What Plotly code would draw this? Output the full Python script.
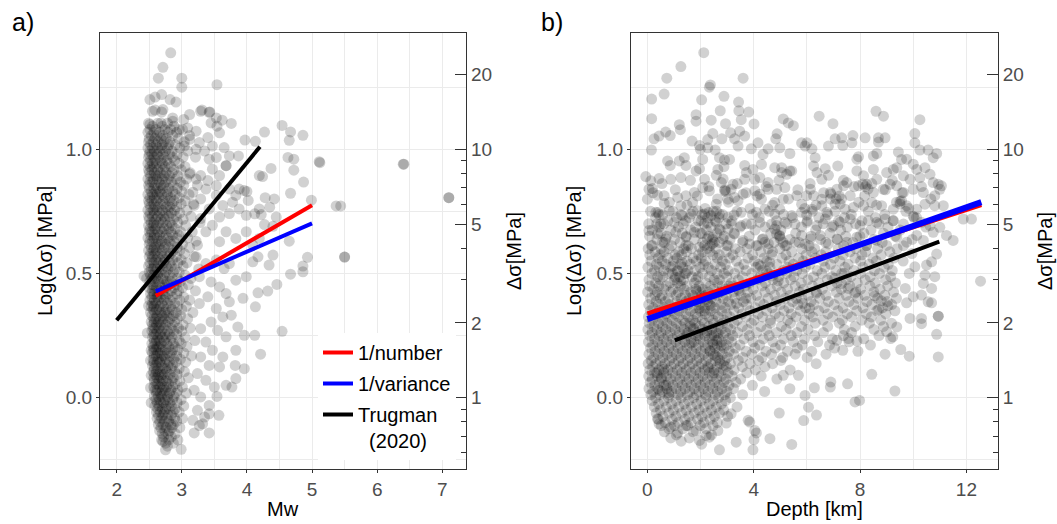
import plotly.graph_objects as go

# ---------------- panel a: Mw vs log10(stress drop) ----------------
# dense core, read row by row (log stress drop, list of Mw)
a_rows = [
    (1.105, [2.49, 2.63, 2.78]),
    (1.093, [2.55, 2.70, 2.88]),
    (1.080, [2.51, 2.60, 2.74, 2.83, 3.01]),
    (1.068, [2.48, 2.57, 2.66, 2.79, 2.92]),
    (1.055, [2.53, 2.62, 2.71, 2.86, 3.12]),
    (1.043, [2.50, 2.59, 2.68, 2.76, 2.95]),
    (1.030, [2.49, 2.56, 2.64, 2.73, 2.82, 3.04]),
    (1.018, [2.52, 2.61, 2.70, 2.80, 2.90]),
    (1.005, [2.48, 2.55, 2.63, 2.69, 2.78, 2.97]),
    (0.993, [2.51, 2.58, 2.66, 2.75, 2.85, 3.09]),
    (0.980, [2.50, 2.54, 2.62, 2.71, 2.81, 2.93]),
    (0.968, [2.49, 2.57, 2.65, 2.73, 2.86, 3.02, 3.21]),
    (0.955, [2.52, 2.59, 2.68, 2.77, 2.89]),
    (0.943, [2.48, 2.55, 2.61, 2.70, 2.80, 2.96]),
    (0.930, [2.51, 2.57, 2.66, 2.74, 2.83, 3.05]),
    (0.918, [2.49, 2.54, 2.63, 2.72, 2.88, 2.99]),
    (0.905, [2.50, 2.58, 2.67, 2.76, 2.85, 3.13]),
    (0.893, [2.52, 2.60, 2.64, 2.73, 2.81, 2.94]),
    (0.880, [2.48, 2.56, 2.62, 2.70, 2.79, 2.91, 3.07]),
    (0.868, [2.51, 2.55, 2.65, 2.75, 2.84, 2.98]),
    (0.855, [2.49, 2.59, 2.68, 2.72, 2.87, 3.03, 3.24]),
    (0.843, [2.50, 2.57, 2.63, 2.71, 2.80, 2.93]),
    (0.830, [2.53, 2.60, 2.66, 2.77, 2.86, 3.00]),
    (0.818, [2.48, 2.55, 2.62, 2.69, 2.78, 2.90, 3.11]),
    (0.805, [2.51, 2.58, 2.65, 2.74, 2.83, 2.96]),
    (0.793, [2.49, 2.54, 2.61, 2.71, 2.81, 2.88, 3.05]),
    (0.780, [2.50, 2.57, 2.67, 2.73, 2.85, 2.99, 3.18]),
    (0.768, [2.52, 2.59, 2.64, 2.76, 2.82, 2.92]),
    (0.755, [2.48, 2.56, 2.62, 2.70, 2.79, 2.89, 3.08]),
    (0.743, [2.51, 2.58, 2.66, 2.75, 2.84, 2.97]),
    (0.730, [2.49, 2.55, 2.63, 2.72, 2.80, 2.91, 3.14]),
    (0.718, [2.50, 2.60, 2.68, 2.74, 2.87, 3.02]),
    (0.705, [2.53, 2.57, 2.65, 2.71, 2.82, 2.94, 3.28]),
    (0.693, [2.49, 2.56, 2.61, 2.77, 2.85, 3.06]),
    (0.680, [2.51, 2.59, 2.67, 2.73, 2.80, 2.90]),
    (0.668, [2.50, 2.54, 2.63, 2.70, 2.83, 2.98, 3.16]),
    (0.655, [2.52, 2.58, 2.66, 2.76, 2.86, 2.95]),
    (0.643, [2.48, 2.57, 2.62, 2.72, 2.79, 2.92, 3.09]),
    (0.630, [2.51, 2.55, 2.64, 2.69, 2.81, 2.88, 3.22]),
    (0.618, [2.50, 2.60, 2.67, 2.75, 2.84, 3.01]),
    (0.605, [2.53, 2.58, 2.65, 2.73, 2.80, 2.93, 3.12]),
    (0.593, [2.49, 2.56, 2.61, 2.70, 2.87, 2.97]),
    (0.580, [2.52, 2.59, 2.68, 2.77, 2.83, 3.04]),
    (0.568, [2.50, 2.55, 2.63, 2.71, 2.80, 2.91, 3.19]),
    (0.555, [2.54, 2.60, 2.66, 2.74, 2.86, 2.99]),
    (0.543, [2.51, 2.57, 2.64, 2.72, 2.82, 2.94, 3.08]),
    (0.530, [2.49, 2.58, 2.67, 2.76, 2.84, 3.02]),
    (0.518, [2.53, 2.56, 2.62, 2.70, 2.79, 2.90, 3.26]),
    (0.505, [2.50, 2.59, 2.65, 2.75, 2.87, 2.96]),
    (0.493, [2.52, 2.57, 2.63, 2.73, 2.81, 3.05]),
    (0.480, [2.54, 2.60, 2.68, 2.71, 2.85, 2.93, 3.14]),
    (0.468, [2.51, 2.58, 2.64, 2.77, 2.83, 2.98]),
    (0.455, [2.53, 2.56, 2.66, 2.74, 2.80, 2.91, 3.10]),
    (0.443, [2.50, 2.61, 2.69, 2.76, 2.88, 3.01]),
    (0.430, [2.55, 2.59, 2.65, 2.72, 2.84, 2.95, 3.21]),
    (0.418, [2.52, 2.57, 2.63, 2.71, 2.79, 2.92]),
    (0.405, [2.54, 2.62, 2.67, 2.75, 2.86, 3.03]),
    (0.393, [2.51, 2.58, 2.64, 2.73, 2.82, 2.97, 3.12]),
    (0.380, [2.55, 2.60, 2.69, 2.78, 2.89]),
    (0.368, [2.53, 2.57, 2.66, 2.72, 2.83, 2.94, 3.07]),
    (0.355, [2.56, 2.61, 2.65, 2.76, 2.85, 3.00]),
    (0.343, [2.52, 2.59, 2.68, 2.74, 2.80, 2.91, 3.17]),
    (0.330, [2.54, 2.62, 2.70, 2.77, 2.87, 2.98]),
    (0.318, [2.57, 2.60, 2.66, 2.73, 2.82, 2.93, 3.09]),
    (0.305, [2.53, 2.58, 2.64, 2.71, 2.79, 2.89]),
    (0.293, [2.55, 2.61, 2.68, 2.75, 2.86, 3.02]),
    (0.280, [2.56, 2.59, 2.65, 2.72, 2.84, 2.95, 3.13]),
    (0.268, [2.54, 2.62, 2.69, 2.78, 2.88, 3.00]),
    (0.255, [2.57, 2.60, 2.67, 2.74, 2.81, 2.92]),
    (0.243, [2.55, 2.63, 2.70, 2.76, 2.85, 3.05]),
    (0.230, [2.58, 2.61, 2.66, 2.73, 2.83, 2.96, 3.20]),
    (0.218, [2.54, 2.59, 2.68, 2.77, 2.87, 2.99]),
    (0.205, [2.56, 2.62, 2.65, 2.71, 2.80, 2.90, 3.08]),
    (0.193, [2.57, 2.60, 2.69, 2.75, 2.86, 2.94]),
    (0.180, [2.55, 2.63, 2.67, 2.78, 2.84, 3.03]),
    (0.168, [2.58, 2.61, 2.70, 2.73, 2.82, 2.92, 3.15]),
    (0.155, [2.56, 2.64, 2.68, 2.76, 2.88, 2.98]),
    (0.143, [2.57, 2.62, 2.66, 2.74, 2.81, 2.91, 3.06]),
    (0.130, [2.55, 2.60, 2.69, 2.79, 2.86]),
    (0.118, [2.58, 2.63, 2.71, 2.75, 2.84, 2.96]),
    (0.105, [2.56, 2.61, 2.67, 2.77, 2.89, 3.04]),
    (0.093, [2.59, 2.64, 2.70, 2.73, 2.82, 2.93]),
    (0.080, [2.57, 2.62, 2.68, 2.78, 2.87, 3.10]),
    (0.068, [2.58, 2.65, 2.71, 2.76, 2.85, 2.97]),
    (0.055, [2.60, 2.63, 2.69, 2.80, 2.90]),
    (0.043, [2.57, 2.66, 2.72, 2.77, 2.86, 3.01]),
    (0.030, [2.59, 2.62, 2.70, 2.75, 2.83, 2.94]),
    (0.018, [2.61, 2.67, 2.73, 2.81, 2.91, 3.07]),
    (0.005, [2.58, 2.64, 2.69, 2.78, 2.88]),
    (-0.008, [2.60, 2.66, 2.74, 2.79, 2.86, 2.99]),
    (-0.020, [2.62, 2.68, 2.72, 2.82, 2.93]),
    (-0.033, [2.59, 2.65, 2.76, 2.84, 3.03]),
    (-0.045, [2.63, 2.70, 2.75, 2.81, 2.90]),
    (-0.058, [2.61, 2.67, 2.73, 2.87, 2.96]),
    (-0.070, [2.64, 2.71, 2.79, 2.84]),
    (-0.083, [2.62, 2.69, 2.77, 2.89, 3.01]),
    (-0.095, [2.66, 2.73, 2.80, 2.92]),
    (-0.108, [2.64, 2.71, 2.83, 2.87]),
    (-0.120, [2.68, 2.76, 2.85, 2.97]),
    (-0.133, [2.66, 2.74, 2.81]),
    (-0.145, [2.70, 2.79, 2.90]),
    (-0.158, [2.72, 2.84]),
    (-0.170, [2.69, 2.80, 2.94]),
    (-0.183, [2.75, 2.87]),
    (-0.195, [2.78]),
]
# individual points outside the core (Mw, log stress drop)
a_sparse = [
    (2.83, 1.388), (2.71, 1.33), (2.64, 1.286), (3.00, 1.286), (3.00, 1.25), (3.54, 1.26),
    (2.51, 1.20), (2.59, 1.21), (2.69, 1.22), (2.82, 1.20), (2.91, 1.19),
    (2.59, 1.158), (2.71, 1.16), (3.31, 1.158), (3.43, 1.15),
    (2.55, 1.153), (2.69, 1.15), (2.86, 1.126), (3.03, 1.12), (3.12, 1.14), (3.29, 1.153),
    (3.42, 1.149), (3.53, 1.126), (3.62, 1.117), (3.76, 1.104),
    (2.51, 1.10), (2.68, 1.106), (2.86, 1.113), (2.96, 1.08), (3.09, 1.086), (3.22, 1.073),
    (3.45, 1.106), (3.54, 1.093), (3.58, 1.066),
    (4.27, 1.069), (4.54, 1.096), (4.67, 1.07), (4.86, 1.056), (4.65, 1.036), (3.97, 1.037), (4.13, 1.032),
    (3.12, 1.04), (3.27, 1.027), (3.40, 1.047), (3.47, 1.013), (3.65, 1.007), (3.22, 1.0), (3.04, 1.013), (3.35, 0.993),
    (3.42, 0.96), (3.53, 0.967), (3.68, 0.934), (3.68, 0.934), (3.73, 0.973), (3.87, 0.973), (3.47, 0.92),
    (3.29, 0.894), (3.40, 0.874), (3.22, 0.88), (3.12, 0.90), (3.58, 0.894),
    (4.19, 0.894), (4.24, 0.89), (4.37, 0.923), (4.63, 0.967), (4.72, 0.96), (4.72, 0.916), (4.87, 0.868),
    (5.11, 0.95), (5.12, 0.946),
    (4.00, 0.83), (3.88, 0.84), (4.02, 0.794), (4.19, 0.76), (4.35, 0.767), (4.12, 0.74), (4.22, 0.737),
    (4.67, 0.823), (4.28, 0.805), (4.42, 0.80), (4.99, 0.795), (5.37, 0.772), (5.44, 0.772),
    (6.40, 0.94), (6.41, 0.94), (7.10, 0.805), (7.10, 0.805),
    (4.27, 0.697), (4.45, 0.727), (4.40, 0.69), (4.65, 0.63), (4.09, 0.614), (4.19, 0.641),
    (3.53, 0.854), (3.73, 0.84), (3.83, 0.814), (3.96, 0.834), (3.78, 0.787), (3.63, 0.774), (3.53, 0.814),
    (3.37, 0.84), (3.88, 0.76), (3.99, 0.734), (3.73, 0.741), (3.58, 0.727), (3.47, 0.694), (3.68, 0.668),
    (3.83, 0.641), (3.99, 0.668), (3.58, 0.628), (3.37, 0.668), (3.29, 0.721), (3.19, 0.774), (3.17, 0.827),
    (3.29, 0.80), (3.42, 0.76), (3.24, 0.614),
    (4.40, 0.574), (4.34, 0.534), (4.17, 0.567), (4.09, 0.547), (4.93, 0.565), (4.86, 0.53), (4.86, 0.507),
    (4.67, 0.497), (3.99, 0.487), (3.83, 0.473), (4.46, 0.456), (5.50, 0.566), (5.50, 0.566),
    (3.22, 0.567), (3.37, 0.54), (3.53, 0.554), (3.65, 0.52), (3.73, 0.54), (3.27, 0.487), (3.45, 0.466),
    (3.58, 0.446), (3.68, 0.419), (3.40, 0.406), (3.27, 0.379), (3.53, 0.359), (3.63, 0.325), (3.45, 0.305),
    (3.29, 0.278), (3.55, 0.271), (3.68, 0.245), (3.37, 0.224), (3.47, 0.191), (3.63, 0.164), (3.29, 0.164),
    (3.42, 0.13), (3.58, 0.124), (3.24, 0.097), (3.37, 0.07), (3.50, 0.043), (3.19, 0.03), (3.29, 0.003),
    (3.42, -0.031), (3.24, -0.051), (3.35, -0.078), (3.17, -0.091), (3.27, -0.112), (3.42, -0.065),
    (4.32, 0.429), (4.17, 0.422), (3.94, 0.40), (4.13, 0.366), (3.73, 0.386), (3.76, 0.332), (3.86, 0.285),
    (3.96, 0.251), (4.12, 0.251), (4.54, 0.267),
    (4.21, 0.175), (3.83, 0.191), (3.96, 0.117), (3.82, 0.13), (3.83, 0.077), (3.68, 0.05), (3.77, 0.043),
    (3.54, 0.005), (3.57, -0.071), (3.42, -0.142), (3.32, -0.105), (2.99, -0.208), (2.75, -0.21),
    (2.71, -0.176), (3.19, -0.142),
    (2.46, 0.48), (2.49, 0.37), (2.47, 0.26), (2.42, 0.49), (2.53, 0.19), (2.52, 0.15), (2.53, 0.09),
    (2.52, 0.04), (2.53, -0.02),
]

# ---------------- panel b: depth vs log10(stress drop) ----------------
b_rows = [
    (0.875, [1.62, 4.95, 7.37, 9.21]),
    (0.862, [0.55, 3.38, 6.12, 8.44]),
    (0.850, [2.31, 4.47, 7.78, 10.31]),
    (0.837, [1.05, 2.92, 5.66, 8.95]),
    (0.825, [0.21, 3.71, 6.63, 9.58]),
    (0.812, [1.88, 4.12, 7.22, 8.17]),
    (0.800, [2.64, 5.31, 6.88, 10.66]),
    (0.787, [0.83, 3.05, 7.95, 9.37]),
    (0.775, [1.49, 4.71, 6.34, 8.62]),
    (0.762, [2.17, 3.86, 5.92, 9.83]),
    (0.750, [0.12, 0.96, 1.71, 2.48, 3.37, 4.58, 6.21, 7.06, 8.31, 9.72]),
    (0.737, [0.58, 1.27, 2.05, 2.83, 3.95, 5.12, 6.78, 7.67, 8.93]),
    (0.725, [0.31, 1.09, 1.58, 2.27, 2.69, 4.21, 5.47, 6.45, 7.41, 8.58, 10.12]),
    (0.712, [0.77, 1.44, 1.92, 2.55, 3.18, 4.86, 6.02, 7.19, 8.07, 9.24]),
    (0.700, [0.05, 0.62, 1.35, 2.13, 2.96, 3.72, 5.25, 6.61, 7.83, 8.71]),
    (0.687, [0.44, 1.17, 1.81, 2.39, 3.49, 4.43, 5.79, 6.94, 7.52, 9.05, 10.47]),
    (0.675, [0.19, 0.88, 1.63, 2.22, 2.74, 4.05, 5.02, 6.33, 7.27, 8.41, 9.51]),
    (0.662, [0.51, 1.31, 1.99, 2.61, 3.26, 4.64, 5.58, 6.87, 8.14, 8.88]),
    (0.650, [0.08, 0.73, 1.46, 2.31, 2.89, 3.83, 4.97, 6.16, 7.46, 7.99, 9.32]),
    (0.637, [0.36, 1.02, 1.77, 2.45, 3.11, 4.32, 5.36, 6.52, 7.15, 8.52, 9.96]),
    (0.625, [0.64, 1.23, 2.08, 2.71, 3.58, 4.77, 5.71, 6.71, 7.73, 8.83]),
    (0.612, [0.15, 0.91, 1.54, 2.36, 2.98, 4.15, 5.18, 6.08, 7.38, 8.24, 9.63]),
    (0.600, [0.03, 0.52, 0.81, 1.37, 1.66, 2.24, 2.58, 3.31, 3.74, 4.55, 4.98, 5.81, 6.29, 7.18, 7.84, 8.66, 9.39]),
    (0.587, [0.29, 0.63, 1.18, 1.47, 2.07, 2.35, 2.97, 3.49, 4.27, 4.71, 5.43, 6.19, 6.71, 7.62, 8.21, 9.12]),
    (0.575, [0.09, 0.48, 1.04, 1.29, 1.93, 2.46, 2.71, 3.22, 3.96, 4.67, 5.21, 5.97, 6.54, 7.36, 8.07, 8.79]),
    (0.562, [0.41, 0.76, 1.11, 1.72, 2.03, 2.63, 3.09, 3.78, 4.39, 5.06, 5.69, 6.33, 7.02, 7.81, 8.48, 9.27]),
    (0.550, [0.13, 0.55, 0.98, 1.49, 1.84, 2.19, 2.82, 3.35, 4.02, 4.49, 5.33, 5.86, 6.62, 7.24, 8.02, 8.61]),
    (0.537, [0.34, 0.69, 1.24, 1.61, 2.12, 2.54, 2.93, 3.63, 4.18, 4.87, 5.49, 6.11, 6.89, 7.55, 8.34, 9.06]),
    (0.525, [0.02, 0.44, 0.87, 1.33, 1.98, 2.29, 2.76, 3.44, 4.09, 4.61, 5.27, 5.94, 6.68, 7.43, 8.11, 8.91]),
    (0.512, [0.27, 0.61, 1.15, 1.52, 1.79, 2.41, 3.04, 3.71, 4.33, 5.11, 5.62, 6.39, 7.09, 7.77, 8.54, 9.21]),
    (0.500, [0.17, 0.79, 0.94, 1.41, 2.07, 2.62, 2.88, 3.28, 3.93, 4.57, 5.24, 5.83, 6.56, 7.31, 8.01, 8.73]),
    (0.487, [0.39, 0.58, 1.21, 1.68, 1.91, 2.33, 2.99, 3.57, 4.24, 4.95, 5.51, 6.25, 6.94, 7.66, 8.38, 9.15]),
    (0.475, [0.06, 0.47, 1.02, 1.36, 1.83, 2.51, 2.71, 3.42, 4.14, 4.73, 5.39, 6.04, 6.77, 7.49, 8.19, 8.96]),
    (0.462, [0.31, 0.85, 1.12, 1.77, 2.21, 2.64, 3.16, 3.84, 4.44, 5.13, 5.78, 6.44, 7.13, 7.89, 8.57, 9.33]),
    (0.450, [0.08, 0.43, 0.71, 1.25, 1.49, 1.95, 2.37, 2.81, 3.07, 3.69, 4.31, 4.88, 5.56, 6.21, 6.93, 7.61, 8.37, 9.04]),
    (0.437, [0.23, 0.62, 0.97, 1.38, 1.82, 2.08, 2.49, 2.94, 3.41, 3.98, 4.63, 5.27, 5.87, 6.58, 7.29, 8.02, 8.75]),
    (0.425, [0.01, 0.37, 0.88, 1.16, 1.63, 2.01, 2.29, 2.73, 3.23, 3.77, 4.42, 5.03, 5.72, 6.36, 7.11, 7.84, 8.52, 9.26]),
    (0.412, [0.29, 0.55, 1.08, 1.43, 1.71, 2.19, 2.62, 2.97, 3.52, 4.11, 4.79, 5.37, 6.05, 6.72, 7.48, 8.17, 8.93]),
    (0.400, [0.12, 0.49, 0.79, 1.27, 1.58, 2.04, 2.41, 2.85, 3.29, 3.89, 4.54, 5.18, 5.79, 6.49, 7.21, 7.92, 8.66, 9.37]),
    (0.387, [0.33, 0.68, 1.11, 1.46, 1.86, 2.26, 2.58, 3.05, 3.61, 4.23, 4.86, 5.46, 6.15, 6.81, 7.58, 8.26, 9.02]),
    (0.375, [0.05, 0.42, 0.83, 1.21, 1.52, 1.97, 2.34, 2.76, 3.14, 3.73, 4.38, 4.99, 5.66, 6.27, 7.03, 7.76, 8.44, 9.19]),
    (0.362, [0.22, 0.64, 0.98, 1.34, 1.76, 2.14, 2.53, 2.92, 3.44, 4.06, 4.69, 5.32, 5.95, 6.66, 7.36, 8.11, 8.84]),
    (0.350, [0.11, 0.45, 0.86, 1.19, 1.61, 1.99, 2.38, 2.79, 3.26, 3.86, 4.48, 5.14, 5.76, 6.44, 7.17, 7.88, 8.63, 9.31]),
    (0.337, [0.28, 0.69, 1.03, 1.44, 1.81, 2.18, 2.56, 2.98, 3.56, 4.17, 4.81, 5.41, 6.09, 6.79, 7.52, 8.24, 8.97]),
    (0.325, [0.04, 0.39, 0.77, 1.16, 1.54, 1.89, 2.31, 2.67, 3.11, 3.71, 4.33, 4.96, 5.59, 6.23, 6.97, 7.68, 8.42]),
    (0.312, [0.19, 0.58, 0.94, 1.33, 1.72, 2.07, 2.47, 2.89, 3.38, 4.01, 4.63, 5.28, 5.92, 6.61, 7.33, 8.06, 8.78]),
    (0.300, [0.07, 0.42, 0.73, 1.09, 1.41, 1.79, 2.14, 2.49, 2.83, 3.26, 3.91, 4.63, 5.38, 6.31, 7.22, 8.35, 9.18]),
    (0.287, [0.24, 0.57, 0.91, 1.26, 1.62, 1.96, 2.31, 2.66, 3.02, 3.57, 4.27, 5.04, 5.79, 6.78, 7.81, 8.88]),
    (0.275, [0.02, 0.36, 0.69, 1.04, 1.38, 1.73, 2.08, 2.42, 2.77, 3.14, 3.76, 4.49, 5.22, 6.04, 7.41, 8.52]),
    (0.262, [0.18, 0.51, 0.86, 1.21, 1.55, 1.89, 2.24, 2.59, 2.94, 3.39, 4.11, 4.86, 5.63, 6.62, 7.68]),
    (0.250, [0.09, 0.44, 0.77, 1.13, 1.47, 1.81, 2.16, 2.51, 2.86, 3.21, 3.84, 4.58, 5.41, 6.29, 7.37, 8.71]),
    (0.237, [0.27, 0.61, 0.95, 1.29, 1.64, 1.98, 2.33, 2.68, 3.06, 3.63, 4.36, 5.12, 5.91, 6.96, 8.14]),
    (0.225, [0.04, 0.39, 0.72, 1.07, 1.41, 1.76, 2.11, 2.45, 2.79, 3.17, 3.97, 4.72, 5.49, 6.41, 7.58]),
    (0.212, [0.21, 0.55, 0.89, 1.24, 1.58, 1.92, 2.27, 2.62, 2.97, 3.48, 4.22, 5.01, 5.83, 6.85, 8.39]),
    (0.200, [0.12, 0.46, 0.81, 1.15, 1.49, 1.84, 2.19, 2.54, 2.89, 3.31, 4.04, 4.81, 5.64, 7.04]),
    (0.187, [0.29, 0.63, 0.98, 1.32, 1.67, 2.01, 2.36, 2.71, 3.08, 3.71, 4.46, 5.27, 6.18, 7.92]),
    (0.175, [0.06, 0.41, 0.75, 1.09, 1.44, 1.78, 2.13, 2.48, 2.83, 3.24, 3.93, 4.67, 5.56, 6.72]),
    (0.162, [0.23, 0.58, 0.92, 1.26, 1.61, 1.95, 2.29, 2.64, 3.01, 3.59, 4.31, 5.09, 6.01]),
    (0.150, [0.14, 0.48, 0.83, 1.17, 1.52, 1.86, 2.21, 2.56, 2.91, 3.42, 4.18, 5.02]),
    (0.137, [0.03, 0.32, 0.66, 1.01, 1.35, 1.69, 2.04, 2.39, 2.74, 3.12, 3.86, 4.71, 6.35]),
    (0.125, [0.21, 0.55, 0.89, 1.24, 1.58, 1.93, 2.27, 2.62, 2.97, 3.57, 4.42]),
    (0.112, [0.09, 0.43, 0.77, 1.12, 1.46, 1.81, 2.15, 2.51, 2.86, 3.26, 4.06, 5.37]),
    (0.100, [0.27, 0.61, 0.95, 1.29, 1.64, 1.98, 2.33, 2.68, 3.04, 3.74]),
    (0.087, [0.05, 0.38, 0.72, 1.06, 1.41, 1.75, 2.09, 2.44, 2.79, 3.19, 4.28]),
    (0.075, [0.19, 0.53, 0.87, 1.22, 1.56, 1.91, 2.25, 2.61, 2.95, 3.51, 4.87]),
    (0.062, [0.11, 0.45, 0.79, 1.14, 1.48, 1.83, 2.17, 2.52, 2.88, 3.33]),
    (0.050, [0.28, 0.62, 0.96, 1.31, 1.65, 2.00, 2.35, 2.69, 3.07, 3.95]),
    (0.037, [0.06, 0.39, 0.73, 1.08, 1.42, 1.77, 2.11, 2.46, 2.81, 3.24]),
    (0.025, [0.22, 0.56, 0.91, 1.25, 1.59, 1.94, 2.29, 2.63, 2.99, 4.41]),
    (0.012, [0.13, 0.47, 0.81, 1.16, 1.51, 1.85, 2.19, 2.55, 2.91, 3.58]),
    (0.000, [0.31, 0.79, 1.27, 1.74, 2.21, 2.68, 3.12]),
    (-0.012, [0.18, 0.62, 1.08, 1.55, 2.02, 2.47, 2.94]),
    (-0.025, [0.42, 0.91, 1.39, 1.86, 2.33, 2.79]),
    (-0.037, [0.26, 0.71, 1.18, 1.66, 2.13, 2.59, 3.37]),
    (-0.050, [0.49, 0.98, 1.46, 1.94, 2.41, 2.87]),
    (-0.062, [0.33, 0.81, 1.29, 1.77, 2.24, 2.71]),
    (-0.075, [0.58, 1.07, 1.56, 2.05, 2.52, 3.02]),
    (-0.087, [0.41, 0.93, 1.41, 1.89, 2.36]),
    (-0.100, [0.67, 1.16, 1.64, 2.12, 2.63]),
    (-0.112, [0.52, 1.02, 1.51, 1.99, 2.47]),
    (-0.125, [0.81, 1.33, 2.21]),
    (-0.137, [0.64, 1.72]),
    (-0.150, [1.09, 2.41]),
    (-0.162, [0.88, 1.58]),
    (-0.175, [1.27]),
    (-0.187, [2.04]),
]
b_clusters = [
    (2.25, 0.27), (2.42, 0.25), (2.61, 0.23), (2.78, 0.21), (2.35, 0.19), (2.55, 0.17), (2.72, 0.15),
    (2.88, 0.13), (2.30, 0.12), (2.50, 0.10), (2.66, 0.26), (2.47, 0.215),
    (0.95, 0.53), (1.12, 0.51), (1.30, 0.545), (1.45, 0.50), (1.05, 0.485), (1.25, 0.47),
    (1.85, 0.43), (2.02, 0.41), (2.20, 0.395), (2.38, 0.37), (1.95, 0.36), (2.15, 0.35),
    (0.35, 0.10), (0.52, 0.08), (0.70, 0.05), (0.45, 0.03), (0.62, 0.115), (0.80, 0.02),
    (4.25, 0.53), (4.48, 0.51), (4.70, 0.49), (4.92, 0.47), (4.60, 0.545),
    (7.05, 0.48), (7.30, 0.46), (7.55, 0.44), (7.80, 0.42), (7.40, 0.50),
    (8.55, 0.41), (8.80, 0.39), (9.05, 0.37), (8.70, 0.355),
    (1.60, 0.30), (1.75, 0.28), (1.50, 0.26), (1.90, 0.25), (1.65, 0.22),
    (3.20, 0.45), (3.45, 0.43), (3.70, 0.40), (3.35, 0.38),
    (5.60, 0.40), (5.85, 0.38), (6.10, 0.36), (6.35, 0.42),
    (2.05, 0.66), (2.25, 0.64), (2.45, 0.62), (2.70, 0.68), (4.35, 0.64), (4.55, 0.62),
    (7.10, 0.80), (7.25, 0.78), (8.20, 0.85), (9.50, 0.78),
]
b_sparse = [
    (2.12, 1.389), (1.26, 1.333), (0.73, 1.286), (3.60, 1.286), (2.37, 1.259), (2.33, 1.25), (0.16, 1.202),
    (0.63, 1.222), (2.04, 1.199), (2.88, 1.213), (3.43, 1.19), (1.83, 1.139), (1.83, 1.113), (2.74, 1.155),
    (3.44, 1.155), (3.81, 1.15), (2.40, 1.117), (3.53, 1.119), (2.94, 1.103), (4.01, 1.102), (0.16, 1.123),
    (1.20, 1.099), (1.24, 1.079), (5.11, 1.122), (5.30, 1.106), (5.49, 1.095), (0.25, 1.042), (0.44, 1.053),
    (0.69, 1.069), (0.86, 1.055), (1.68, 1.033), (1.96, 1.015), (2.27, 1.039), (2.46, 1.063), (2.80, 1.042),
    (3.13, 1.066), (3.28, 1.042), (3.66, 1.053), (3.47, 1.073), (4.88, 1.062), (4.83, 1.042), (0.15, 0.997),
    (1.99, 1.0), (2.27, 1.006), (2.55, 0.997), (3.41, 1.013), (3.91, 1.002), (4.16, 1.026), (4.35, 0.979),
    (4.54, 1.002), (4.98, 1.006), (5.36, 0.983), (5.80, 1.026), (5.93, 1.013),
    (6.46, 1.133), (6.98, 1.103), (8.60, 1.153), (8.88, 1.133), (10.25, 1.119), (7.06, 1.042), (7.31, 1.046),
    (7.73, 1.055), (8.19, 1.046), (8.69, 1.046), (8.94, 1.046), (8.69, 1.029), (10.06, 1.063), (10.06, 1.026),
    (6.81, 1.013), (7.35, 1.015), (7.69, 1.026), (6.00, 1.026), (6.19, 1.002), (6.31, 0.966), (6.25, 0.933),
    (7.88, 0.96), (7.94, 0.97), (8.50, 0.973), (8.63, 0.983), (9.44, 0.989), (9.75, 0.96), (10.0, 0.94),
    (10.25, 0.997), (10.56, 0.997), (10.88, 0.983), (10.75, 0.966),
    (0.86, 0.935), (1.20, 0.953), (1.39, 0.966), (1.45, 0.935), (2.08, 0.959), (2.71, 0.966), (2.90, 0.957),
    (3.09, 0.959), (1.96, 0.922), (2.65, 0.919), (3.66, 0.935), (3.97, 0.919), (4.29, 0.939), (4.79, 0.926),
    (5.05, 0.926), (5.36, 0.913), (0.76, 0.953),
    (-0.06, 0.89), (0.13, 0.873), (0.44, 0.882), (0.88, 0.879), (1.26, 0.886), (1.83, 0.913), (2.15, 0.879),
    (2.59, 0.895), (2.78, 0.866), (3.22, 0.859), (3.66, 0.879), (3.72, 0.906), (4.04, 0.879), (4.23, 0.886),
    (4.54, 0.866), (5.05, 0.906), (5.24, 0.899), (5.43, 0.913),
    (0.06, 0.839), (0.19, 0.842), (0.38, 0.815), (0.63, 0.813), (1.14, 0.806), (1.45, 0.813), (1.77, 0.826),
    (2.08, 0.846), (2.33, 0.833), (2.90, 0.833), (3.15, 0.839), (3.28, 0.806), (3.60, 0.819), (4.04, 0.833),
    (4.23, 0.819), (4.54, 0.839), (4.86, 0.839), (5.17, 0.846), (5.62, 0.813), (5.99, 0.813), (0.0, 0.799),
    (0.63, 0.782), (1.26, 0.773), (1.70, 0.786), (2.59, 0.779), (3.03, 0.799), (3.41, 0.793), (4.29, 0.799),
    (4.79, 0.786), (5.11, 0.799), (5.80, 0.779),
    (0.32, 0.746), (0.44, 0.737), (0.82, 0.753), (1.32, 0.733), (1.64, 0.739), (1.89, 0.753), (2.15, 0.739),
    (2.40, 0.733), (2.71, 0.739), (3.03, 0.726), (3.26, 0.735), (3.53, 0.746), (4.10, 0.746), (4.42, 0.759),
    (4.79, 0.739), (4.98, 0.759), (5.43, 0.733), (5.80, 0.746), (5.99, 0.735), (0.50, 0.699), (1.01, 0.706),
    (2.02, 0.713), (2.27, 0.703), (2.59, 0.706), (3.03, 0.679), (3.15, 0.699), (3.53, 0.693), (3.91, 0.699),
    (4.23, 0.706), (4.67, 0.699), (4.86, 0.693), (5.17, 0.706), (5.55, 0.699),
    (0.06, 0.673), (0.38, 0.659), (0.69, 0.639), (1.07, 0.666), (1.45, 0.646), (1.77, 0.666), (2.15, 0.613),
    (2.46, 0.646), (2.52, 0.626), (2.84, 0.639), (3.03, 0.613), (3.28, 0.659), (3.60, 0.633), (3.85, 0.619),
    (4.10, 0.613), (4.42, 0.626), (4.79, 0.679), (4.86, 0.659), (4.98, 0.653), (5.24, 0.613), (5.55, 0.626),
    (5.80, 0.653), (5.93, 0.619), (0.19, 0.613), (0.57, 0.626), (1.45, 0.613), (1.96, 0.606),
    (2.85, 0.88), (2.95, 0.83), (2.88, 0.93), (2.30, 0.745), (2.60, 0.75), (5.00, 0.64), (5.10, 0.625),
    (0.40, 0.745), (0.35, 0.70),
    (7.16, 0.933), (6.69, 0.922), (6.38, 0.906), (6.56, 0.879), (6.81, 0.895), (7.50, 0.866), (7.88, 0.913),
    (8.13, 0.893), (8.50, 0.919), (8.63, 0.879), (9.00, 0.906), (9.25, 0.919), (9.56, 0.959), (9.38, 0.926),
    (9.63, 0.893), (9.88, 0.879), (10.25, 0.886), (10.44, 0.926), (10.63, 0.899), (10.75, 0.866),
    (10.94, 0.859), (11.06, 0.853), (10.13, 0.919),
    (6.13, 0.839), (6.25, 0.813), (6.56, 0.799), (6.88, 0.826), (7.13, 0.839), (7.38, 0.853), (7.63, 0.813),
    (7.94, 0.853), (8.25, 0.859), (8.50, 0.826), (8.88, 0.839), (9.13, 0.859), (9.38, 0.853), (9.63, 0.826),
    (10.0, 0.839), (10.38, 0.826), (10.81, 0.813), (11.0, 0.839),
    (6.19, 0.759), (6.56, 0.773), (6.75, 0.746), (7.06, 0.779), (7.44, 0.759), (7.75, 0.766), (8.13, 0.773),
    (8.44, 0.786), (8.81, 0.773), (9.25, 0.759), (9.56, 0.793), (9.75, 0.773), (10.13, 0.759), (10.44, 0.779),
    (10.81, 0.773), (11.13, 0.773),
    (6.00, 0.706), (6.38, 0.693), (6.69, 0.719), (7.00, 0.693), (7.25, 0.706), (7.63, 0.719), (8.00, 0.693),
    (8.31, 0.713), (8.63, 0.706), (8.94, 0.719), (9.25, 0.713), (9.63, 0.699), (10.03, 0.726), (10.31, 0.706),
    (10.63, 0.693), (11.0, 0.686), (11.88, 0.719), (12.19, 0.719),
    (6.13, 0.639), (6.50, 0.653), (6.81, 0.619), (7.13, 0.639), (7.50, 0.626), (7.88, 0.646), (8.25, 0.613),
    (8.63, 0.633), (9.00, 0.613), (9.38, 0.646), (9.75, 0.626), (10.13, 0.653), (10.38, 0.633), (10.75, 0.666),
    (11.25, 0.653), (11.50, 0.633),
    (6.90, 0.82), (7.30, 0.80), (8.10, 0.86), (8.30, 0.84), (9.50, 0.79), (10.0, 0.73),
    (12.53, 0.469), (10.88, 0.578), (10.69, 0.547), (10.50, 0.534), (10.81, 0.487), (10.44, 0.493),
    (10.38, 0.46), (10.69, 0.44), (10.31, 0.413), (10.56, 0.386), (10.69, 0.382), (10.94, 0.328),
    (10.94, 0.328), (10.88, 0.255), (10.94, 0.164), (10.31, 0.319), (10.31, 0.298), (9.88, 0.319),
    (10.0, 0.406), (9.75, 0.382), (10.06, 0.527), (9.38, 0.285), (9.23, 0.245), (9.00, 0.265), (9.15, 0.238),
    (9.53, 0.194), (9.85, 0.167), (8.94, 0.175), (9.31, 0.027), (8.44, 0.094), (7.53, 0.056), (6.90, 0.063),
    (6.88, 0.043), (6.28, 0.04), (6.36, -0.07), (7.81, -0.017), (7.98, -0.011), (7.35, 0.191), (7.88, 0.228),
    (7.56, 0.238), (7.13, 0.231), (9.62, 0.55), (9.85, 0.50), (9.70, 0.44), (9.95, 0.58),
    (1.96, -0.172), (2.33, -0.159), (2.71, -0.21), (3.34, -0.179), (3.97, -0.21), (4.01, -0.169),
    (3.85, -0.098), (4.10, -0.142), (4.61, -0.165), (4.96, -0.062), (5.43, -0.188), (5.88, -0.092),
    (5.36, 0.036), (5.11, 0.09), (5.68, 0.09), (5.93, 0.009), (6.06, -0.038), (0.38, -0.085), (0.44, -0.105),
    (0.88, -0.118), (1.14, -0.142), (1.45, -0.112), (1.83, -0.132), (2.21, -0.152), (2.65, -0.132),
    (2.97, -0.102), (3.15, -0.065), (3.79, -0.091), (4.04, -0.132),
]

# ---------------- fitted relations ----------------
mw_fit = [2.6, 5.0]
a_number = [0.410, 0.775]
a_variance = [0.428, 0.702]
mw_trugman = [2.0, 4.2]
a_trugman = [0.312, 1.010]
depth_fit = [0.0, 12.56]
b_number = [0.338, 0.776]
b_variance = [0.316, 0.787]
depth_trugman = [1.03, 10.98]
b_trugman = [0.231, 0.628]

# secondary axis (stress drop in MPa, log scale)
sec_ticks = [1, 2, 5, 10, 20]
sec_minor = [0.6, 0.7, 0.8, 0.9, 3, 4, 6, 7, 8, 9]
y_range = [-0.287, 1.468]


def expand(rows, pairs):
    xs, ys = [], []
    for yv, row in rows:
        xs.extend(row)
        ys.extend([yv] * len(row))
    for xv, yv in pairs:
        xs.append(xv)
        ys.append(yv)
    return xs, ys


ax_x, ax_y = expand(a_rows, a_sparse)
bx_x, bx_y = expand(b_rows, b_clusters + b_sparse)

FONT = "Liberation Sans, Arial, Helvetica, sans-serif"
GRID = "#EBEBEB"
FRAME = "#333333"
TICKC = "#4D4D4D"
pt = dict(color="black", opacity=0.18, size=11, line=dict(width=0))

fig = go.Figure()
fig.add_trace(go.Scatter(x=ax_x, y=ax_y, mode="markers", marker=pt, showlegend=False,
                         xaxis="x", yaxis="y", hoverinfo="skip"))
fig.add_trace(go.Scatter(x=bx_x, y=bx_y, mode="markers", marker=pt, showlegend=False,
                         xaxis="x2", yaxis="y2", hoverinfo="skip"))

fig.add_trace(go.Scatter(x=mw_fit, y=a_number, mode="lines", line=dict(color="#FF0000", width=4),
                         name="1/number", legendgroup="g1", xaxis="x", yaxis="y"))
fig.add_trace(go.Scatter(x=mw_fit, y=a_variance, mode="lines", line=dict(color="#0000FF", width=4),
                         name="1/variance", legendgroup="g2", xaxis="x", yaxis="y"))
fig.add_trace(go.Scatter(x=mw_trugman, y=a_trugman, mode="lines", line=dict(color="black", width=4),
                         name="Trugman<br>\u00a0\u00a0(2020)", legendgroup="g3", xaxis="x", yaxis="y"))

fig.add_trace(go.Scatter(x=depth_fit, y=b_number, mode="lines", line=dict(color="#FF0000", width=4.5),
                         showlegend=False, xaxis="x2", yaxis="y2"))
fig.add_trace(go.Scatter(x=depth_fit, y=b_variance, mode="lines", line=dict(color="#0000FF", width=6),
                         showlegend=False, xaxis="x2", yaxis="y2"))
fig.add_trace(go.Scatter(x=depth_trugman, y=b_trugman, mode="lines", line=dict(color="black", width=4),
                         showlegend=False, xaxis="x2", yaxis="y2"))

# carriers for the secondary (MPa) axes
fig.add_trace(go.Scatter(x=[], y=[], mode="lines", showlegend=False, xaxis="x", yaxis="y3", hoverinfo="skip"))
fig.add_trace(go.Scatter(x=[], y=[], mode="lines", showlegend=False, xaxis="x2", yaxis="y4", hoverinfo="skip"))

W, H = 1057, 524
ydom = [1 - 469 / H, 1 - 33 / H]


def xax(dom, rng, dtick, mdtick, anchor):
    return dict(domain=dom, range=rng, anchor=anchor, tick0=0, dtick=dtick,
                ticks="outside", ticklen=3, tickwidth=1, tickcolor=FRAME,
                showline=True, linecolor=FRAME, linewidth=1, mirror=True,
                showgrid=True, gridcolor=GRID, gridwidth=1, zeroline=False,
                minor=dict(tick0=0, dtick=mdtick, showgrid=True, gridcolor=GRID, gridwidth=0.6),
                tickfont=dict(size=19, color=TICKC, family=FONT))


def yax(anchor):
    return dict(domain=ydom, range=y_range, anchor=anchor, tick0=0, dtick=0.5, tickformat=".1f",
                ticks="outside", ticklen=3, tickwidth=1, tickcolor=FRAME,
                showline=True, linecolor=FRAME, linewidth=1, mirror=True,
                showgrid=True, gridcolor=GRID, gridwidth=1, zeroline=False,
                minor=dict(tick0=0, dtick=0.25, showgrid=True, gridcolor=GRID, gridwidth=0.6),
                tickfont=dict(size=19, color=TICKC, family=FONT))


def secax(over, anchor):
    return dict(overlaying=over, anchor=anchor, side="right", type="log", range=y_range,
                tickmode="array", tickvals=sec_ticks, ticktext=[str(t) for t in sec_ticks],
                ticks="inside", ticklen=11, tickwidth=1, tickcolor=FRAME,
                minor=dict(tickmode="array", tickvals=sec_minor, ticks="inside", ticklen=5,
                           tickwidth=1, tickcolor=FRAME, showgrid=False),
                showgrid=False, showline=False, zeroline=False, ticklabelstandoff=4,
                tickfont=dict(size=19, color=TICKC, family=FONT))


fig.update_layout(
    width=W, height=H, margin=dict(l=0, r=0, t=0, b=0),
    paper_bgcolor="white", plot_bgcolor="white",
    font=dict(family=FONT, color="black"),
    xaxis=xax([100 / W, 466 / W], [1.744, 7.364], 1, 0.5, "y"),
    yaxis=yax("x"),
    xaxis2=xax([630.8 / W, 997.8 / W], [-0.624, 13.18], 4, 2, "y2"),
    yaxis2=yax("x2"),
    yaxis3=secax("y", "x"),
    yaxis4=secax("y2", "x2"),
    legend=dict(x=318 / W, y=1 - 333 / H, xanchor="left", yanchor="top", bgcolor="white",
                font=dict(size=20, color="black", family=FONT), tracegroupgap=2, valign="top"),
    hovermode=False,
)

ann = []


def label(text, xpx, ypx, size, angle=0, xanchor="center"):
    ann.append(dict(text=text, x=xpx / W, y=1 - ypx / H, xref="paper", yref="paper",
                    showarrow=False, textangle=angle, xanchor=xanchor, yanchor="middle",
                    font=dict(size=size, color="black", family=FONT)))


label("a)", 10, 22, 25, xanchor="left")
label("b)", 539, 22, 25, xanchor="left")
label("Mw", 283, 509, 20)
label("Depth [km]", 814.3, 509, 20)
label("Log(Δσ) [MPa]", 45, 251, 20, angle=-90)
label("Log(Δσ) [MPa]", 574, 251, 20, angle=-90)
label("Δσ[MPa]", 514, 251, 20, angle=-90)
label("Δσ[MPa]", 1045, 251, 20, angle=-90)
fig.update_layout(annotations=ann)

fig.write_html("out.html", config={"displayModeBar": False})
